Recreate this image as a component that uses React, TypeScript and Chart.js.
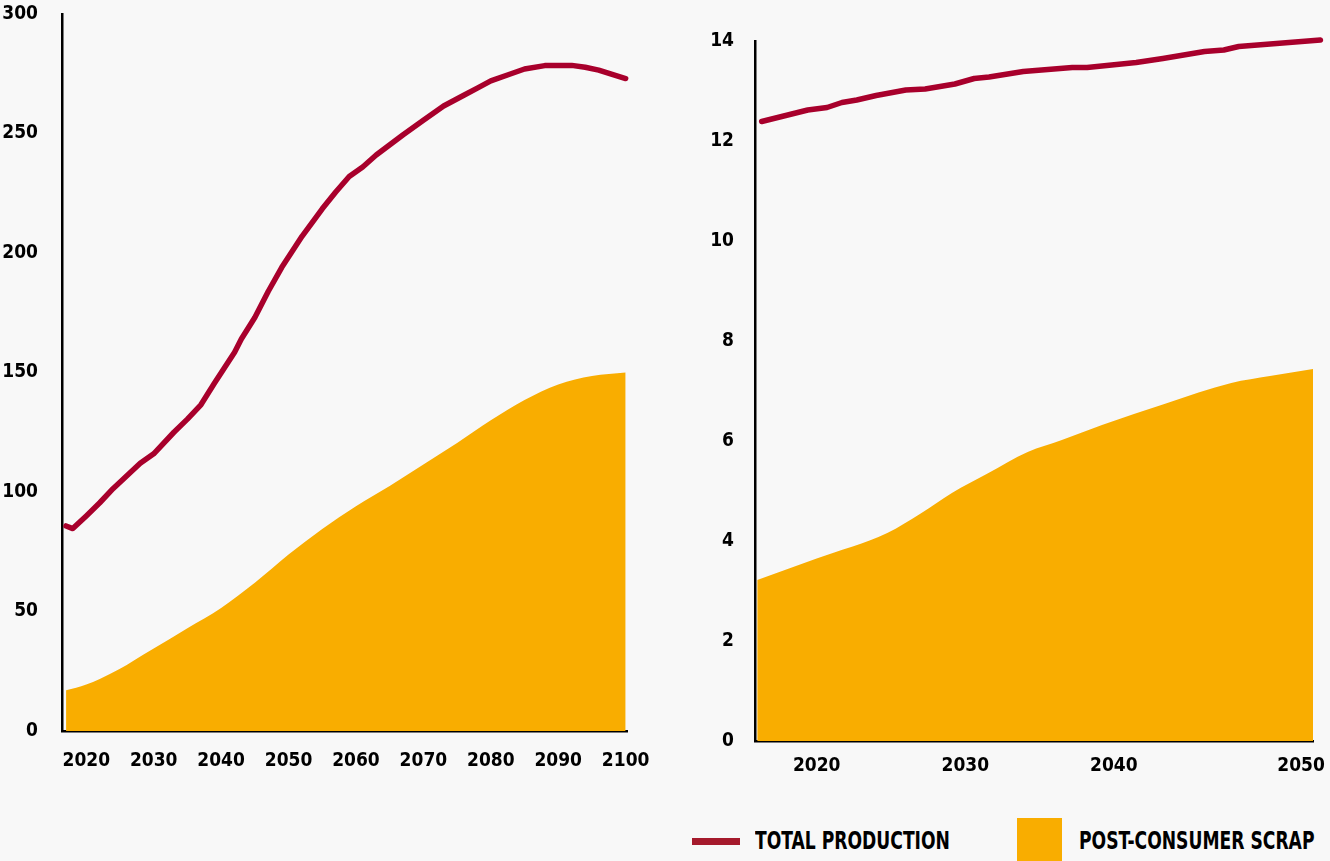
import React, { useEffect, useRef } from 'react';
import { Chart, registerables } from 'chart.js';

Chart.register(...registerables);

const FONT_FAMILY = '"Liberation Sans Narrow", "DejaVu Sans Condensed", "Roboto Condensed", "Liberation Sans", Arial, sans-serif';

// ---- Left chart (to 2100) ----
const LEFT_PROD_YEARS = [2017, 2018, 2020, 2022, 2024, 2028, 2030, 2033, 2035, 2037, 2039, 2042, 2043, 2045, 2047, 2049, 2052, 2055, 2057, 2059, 2061, 2063, 2067, 2070, 2073, 2076, 2078, 2080, 2083, 2085, 2088, 2092, 2094, 2096, 2098, 2100];
const LEFT_PROD_VALUES = [85.8, 84.7, 90, 95.5, 101.5, 112, 116, 125, 130.5, 136.5, 145.5, 158.5, 164, 173, 184, 194, 207, 218.5, 225.5, 232, 236, 241, 249.5, 255.5, 261.5, 266, 269, 272, 275, 277, 278.4, 278.5, 277.7, 276.5, 274.7, 273];
const LEFT_SCRAP_YEARS = [2017, 2020, 2022, 2025, 2027, 2030, 2035, 2040, 2045, 2050, 2055, 2060, 2065, 2070, 2075, 2080, 2085, 2090, 2095, 2100];
const LEFT_SCRAP_VALUES = [17, 19.5, 21.8, 26, 29.4, 34.5, 43, 51.5, 62, 73.8, 84.5, 94, 102.5, 111.5, 120.5, 130, 138.5, 145, 148.5, 150];
const LEFT_X_TICKS = [2020, 2030, 2040, 2050, 2060, 2070, 2080, 2090, 2100];
const LEFT_Y_TICKS = [0, 50, 100, 150, 200, 250, 300];

// ---- Right chart (to 2050) ----
const RIGHT_PROD_YEARS = [2016.3, 2019.4, 2020.7, 2021.7, 2022.7, 2024.0, 2026.0, 2027.3, 2029.3, 2030.6, 2031.6, 2033.9, 2037.2, 2038.2, 2041.5, 2043.3, 2046.1, 2047.4, 2048.4, 2053.9];
const RIGHT_PROD_VALUES = [12.39, 12.62, 12.67, 12.77, 12.82, 12.91, 13.02, 13.04, 13.14, 13.25, 13.28, 13.39, 13.47, 13.47, 13.57, 13.65, 13.79, 13.82, 13.89, 14.02];
const RIGHT_SCRAP_YEARS = [2016.0, 2020.0, 2024.75, 2027.0, 2029.1, 2031.5, 2034.2, 2036.5, 2039.2, 2043.5, 2047.9, 2050.5, 2053.4];
const RIGHT_SCRAP_VALUES = [3.22, 3.65, 4.16, 4.55, 4.96, 5.35, 5.78, 6.02, 6.32, 6.75, 7.16, 7.3, 7.44];
const RIGHT_X_TICKS = [2020, 2030, 2040, 2052.6];
const RIGHT_X_LABELS = ['2020', '2030', '2040', '2050'];
const RIGHT_Y_TICKS = [0, 2, 4, 6, 8, 10, 12, 14];

const LEGEND_LABELS = ['TOTAL PRODUCTION', 'POST-CONSUMER SCRAP'];

const RED = '#a8002c';
const LEGEND_RED = '#a51a2c';
const ORANGE = '#f9ad00';
const BG = '#f8f8f8';

type Cfg = {
  prodX: number[]; prodY: number[]; scrapX: number[]; scrapY: number[];
  xMin: number; xMax: number; yMax: number;
  xTicks: number[]; xLabels?: string[]; yTicks: number[];
  yAxisWidth: number; xAxisHeight: number;
  padding: { top: number; right: number; bottom: number; left: number };
  yPad: number; xPad: number; scrapTension: number;
};

function makeConfig(c: Cfg): any {
  const pts = (xs: number[], ys: number[]) => xs.map((x, i) => ({ x, y: ys[i] }));
  const font = { family: FONT_FAMILY, size: 19, weight: 'bold' as const };
  return {
    type: 'line',
    data: {
      datasets: [
        {
          label: LEGEND_LABELS[0],
          data: pts(c.prodX, c.prodY),
          borderColor: RED,
          borderWidth: 5.5,
          pointRadius: 0,
          tension: 0,
          fill: false,
          borderCapStyle: 'round',
          borderJoinStyle: 'round',
          clip: false,
          order: 0,
        },
        {
          label: LEGEND_LABELS[1],
          data: pts(c.scrapX, c.scrapY),
          borderColor: ORANGE,
          backgroundColor: ORANGE,
          borderWidth: 0,
          pointRadius: 0,
          tension: c.scrapTension,
          cubicInterpolationMode: 'monotone',
          fill: 'origin',
          order: 1,
        },
      ],
    },
    options: {
      animation: false,
      responsive: false,
      maintainAspectRatio: false,
      layout: { padding: c.padding },
      plugins: { legend: { display: false }, tooltip: { enabled: false } },
      scales: {
        x: {
          type: 'linear',
          min: c.xMin,
          max: c.xMax,
          grid: { display: false, drawTicks: false },
          border: { display: true, color: '#000', width: 2.5 },
          afterBuildTicks: (s: any) => { s.ticks = c.xTicks.map((v) => ({ value: v })); },
          afterFit: (s: any) => { s.height = c.xAxisHeight; s.paddingLeft = 0; s.paddingRight = 0; },
          ticks: {
            color: '#000',
            font,
            padding: c.xPad,
            maxRotation: 0,
            autoSkip: false,
            callback: (v: any, i: number) => (c.xLabels ? c.xLabels[i] : String(v)),
          },
        },
        y: {
          type: 'linear',
          min: 0,
          max: c.yMax,
          grid: { display: false, drawTicks: false },
          border: { display: true, color: '#000', width: 2.5 },
          afterBuildTicks: (s: any) => { s.ticks = c.yTicks.map((v) => ({ value: v })); },
          afterFit: (s: any) => { s.width = c.yAxisWidth; s.paddingTop = 0; s.paddingBottom = 0; },
          ticks: { color: '#000', font, padding: c.yPad, autoSkip: false, callback: (v: any) => String(v) },
        },
      },
    },
  };
}

function ChartCanvas(props: { cfg: Cfg; left: number; top: number; width: number; height: number }) {
  const ref = useRef<HTMLCanvasElement | null>(null);
  useEffect(() => {
    if (!ref.current) return;
    const chart = new Chart(ref.current, makeConfig(props.cfg));
    return () => chart.destroy();
  }, []);
  return (
    <canvas
      ref={ref}
      width={props.width}
      height={props.height}
      style={{ position: 'absolute', left: props.left, top: props.top, width: props.width, height: props.height }}
    />
  );
}

export default function App() {
  const leftCfg: Cfg = {
    prodX: LEFT_PROD_YEARS, prodY: LEFT_PROD_VALUES,
    scrapX: LEFT_SCRAP_YEARS, scrapY: LEFT_SCRAP_VALUES,
    xMin: 2016.4, xMax: 2100.2, yMax: 300,
    xTicks: LEFT_X_TICKS, yTicks: LEFT_Y_TICKS,
    yAxisWidth: 62, xAxisHeight: 69,
    padding: { top: 24, right: 33, bottom: 0, left: 0 },
    yPad: 24, xPad: 19, scrapTension: 0.4,
  };
  const rightCfg: Cfg = {
    prodX: RIGHT_PROD_YEARS, prodY: RIGHT_PROD_VALUES,
    scrapX: RIGHT_SCRAP_YEARS, scrapY: RIGHT_SCRAP_VALUES,
    xMin: 2015.85, xMax: 2053.4, yMax: 14,
    xTicks: RIGHT_X_TICKS, xLabels: RIGHT_X_LABELS, yTicks: RIGHT_Y_TICKS,
    yAxisWidth: 75, xAxisHeight: 59,
    padding: { top: 41, right: 17, bottom: 0, left: 0 },
    yPad: 21, xPad: 14, scrapTension: 0.2,
  };
  const legendText: React.CSSProperties = {
    position: 'absolute',
    fontFamily: FONT_FAMILY,
    fontWeight: 'bold',
    fontSize: 24,
    lineHeight: '24px',
    color: '#000',
    whiteSpace: 'nowrap',
    transformOrigin: '0 50%',
    transform: 'scaleX(0.795)',
  };
  return (
    <div style={{ position: 'absolute', left: 0, top: 0, width: 1330, height: 861, background: BG, overflow: 'hidden' }}>
      <ChartCanvas cfg={leftCfg} left={0} top={-10} width={660} height={810} />
      <ChartCanvas cfg={rightCfg} left={680} top={0} width={650} height={800} />
      <div style={{ position: 'absolute', left: 692, top: 838, width: 48, height: 7, background: LEGEND_RED }} />
      <div style={{ ...legendText, left: 755, top: 829 }}>{LEGEND_LABELS[0]}</div>
      <div style={{ position: 'absolute', left: 1017, top: 818, width: 45, height: 43, background: ORANGE }} />
      <div style={{ ...legendText, left: 1079, top: 829 }}>{LEGEND_LABELS[1]}</div>
    </div>
  );
}
